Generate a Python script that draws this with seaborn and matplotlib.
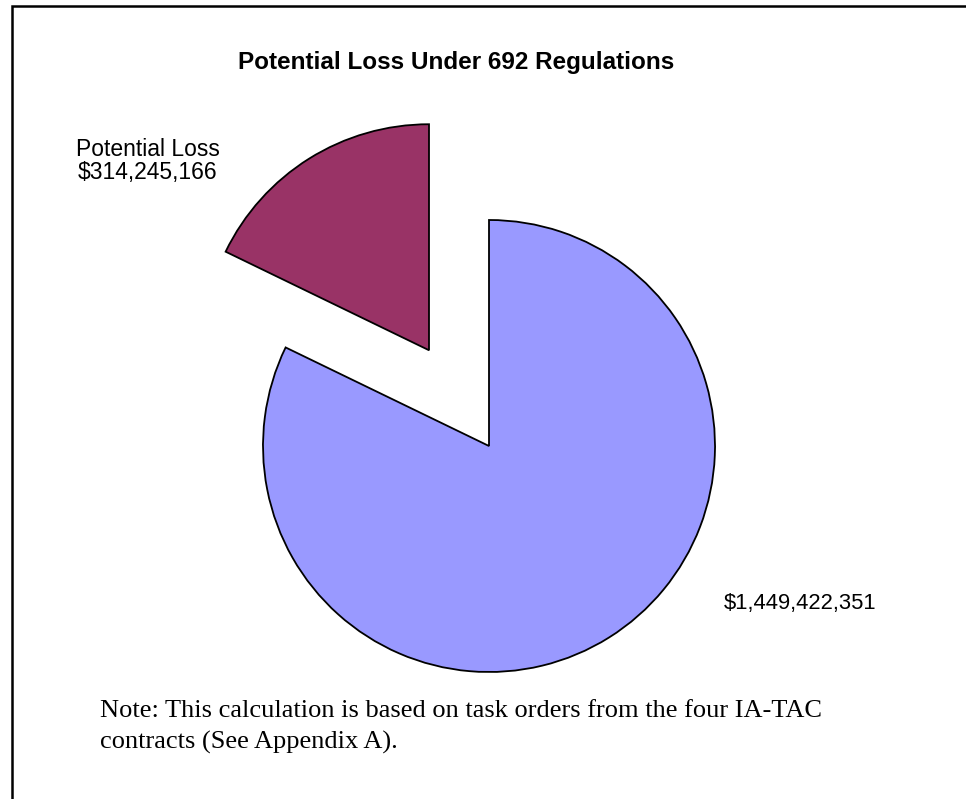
import matplotlib
matplotlib.use("Agg")
import matplotlib.pyplot as plt
import seaborn as sns
from matplotlib.patches import Rectangle

sns.set_style("white")
plt.rcParams['font.family'] = ['Liberation Sans', 'DejaVu Sans']

# Data
categories = ["Potential Loss", "Remaining"]
values = [314245166, 1449422351]
label_texts = ["Potential Loss\n$314,245,166", "$1,449,422,351"]
colors = ["#993366", "#9999FF"]
explode = [0.5, 0.0]
title = "Potential Loss Under 692 Regulations"
note = "Note: This calculation is based on task orders from the four IA-TAC\ncontracts (See Appendix A)."

W, H = 966, 799
fig = plt.figure(figsize=(W / 100, H / 100), dpi=100)
fig.patch.set_facecolor("white")

ax = fig.add_axes([0, 0, 1, 1])
ax.pie(values, colors=colors, explode=explode, startangle=90, counterclock=True,
       radius=1.0, wedgeprops=dict(edgecolor="black", linewidth=1.3))
cx, cy, r = 489, 446, 226
ax.set_xlim(-cx / r, (W - cx) / r)
ax.set_ylim(-(H - cy) / r, cy / r)
ax.set_aspect("equal")
ax.axis("off")

def fx(x):
    return x / W

def fy(y):
    return 1 - y / H

fig.text(fx(456), fy(62), title, ha="center", va="center", fontsize=17.5,
         fontweight="bold", color="black")
fig.text(fx(148), fy(161), label_texts[0], ha="center", va="center",
         fontsize=16.5, color="black", linespacing=1.0)
fig.text(fx(724), fy(603), label_texts[1], ha="left", va="center",
         fontsize=15.8, color="black")
fig.text(fx(100), fy(727), note, ha="left", va="center", fontsize=19,
         family=["Liberation Serif", "DejaVu Serif"], color="black",
         linespacing=1.55)

# frame (clipped on right and bottom as in the reference)
fig.patches.append(Rectangle((fx(11.5), fy(H + 20)), fx(W + 40), (H + 20 - 5.5) / H,
                             transform=fig.transFigure, fill=False,
                             edgecolor="black", linewidth=1.8))

fig.savefig("out.png", dpi=100, facecolor="white")
